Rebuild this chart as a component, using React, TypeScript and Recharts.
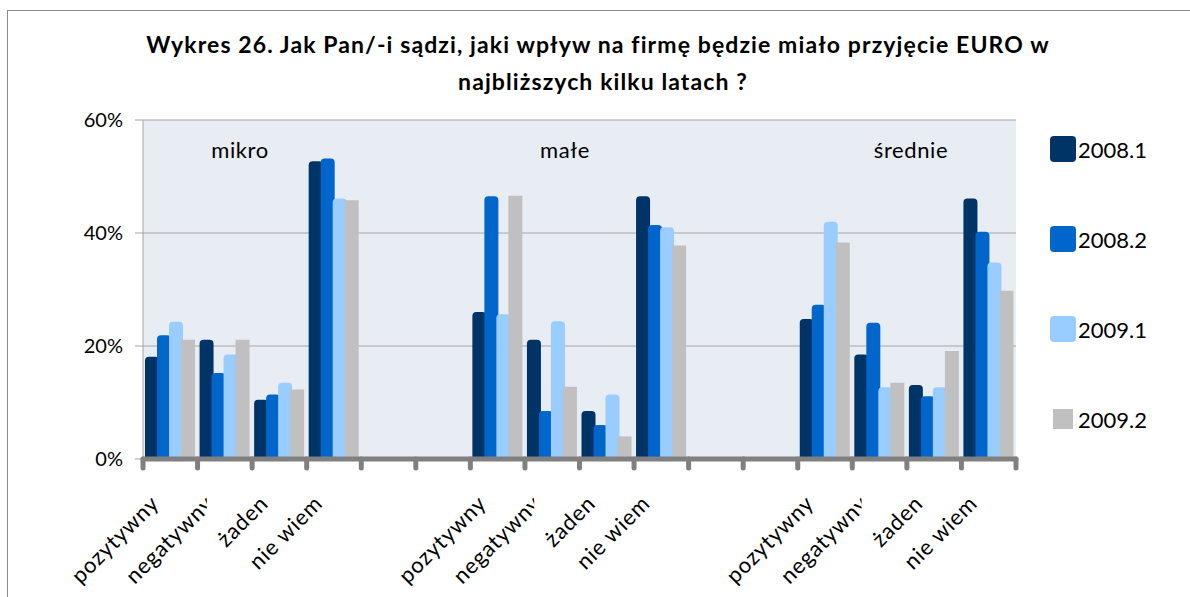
import React from "react";
import { BarChart, Bar, XAxis, YAxis, CartesianGrid } from "recharts";

// grupy firm, odpowiedzi i serie (fale badania)
const groupNames = ["mikro", "małe", "średnie"];
const answerLabels = ["pozytywny", "negatywny", "żaden", "nie wiem"];
const seriesNames = ["2008.1", "2008.2", "2009.1", "2009.2"];
const seriesColors = ["#003366", "#0066CC", "#99CCFF", "#C0C0C0"];

// wartości w % (mikro x4, małe x4, średnie x4)
const v2008_1 = [18.1, 21.1, 10.5, 52.7, 26.0, 21.1, 8.5, 46.5, 24.8, 18.5, 13.1, 46.1];
const v2008_2 = [21.9, 15.2, 11.4, 53.2, 46.5, 8.5, 6.0, 41.4, 27.3, 24.1, 11.1, 40.2];
const v2009_1 = [24.3, 18.5, 13.5, 46.1, 25.6, 24.4, 11.4, 41.0, 42.0, 12.7, 12.7, 34.8];
const v2009_2 = [21.1, 21.1, 12.3, 45.8, 46.6, 12.8, 4.0, 37.8, 38.3, 13.5, 19.1, 29.8];
const seriesValues = [v2008_1, v2008_2, v2009_1, v2009_2];

const yTicks = [0, 20, 40, 60];
const titleLines = [
  "Wykres 26. Jak Pan/-i sądzi, jaki wpływ na firmę będzie miało przyjęcie EURO w",
  "najbliższych kilku latach ?",
];

// tabela dla wykresu: 4 odpowiedzi na grupę + 2 puste sloty między grupami
const table: any[] = [];
groupNames.forEach((g, gi) => {
  answerLabels.forEach((a, ai) => {
    const row: any = { id: `${g}-${ai}`, label: a };
    seriesValues.forEach((vals, si) => {
      row[`s${si}`] = vals[gi * 4 + ai];
    });
    table.push(row);
  });
  if (gi < groupNames.length - 1) {
    table.push({ id: `${g}-gap1`, label: "" });
    table.push({ id: `${g}-gap2`, label: "" });
  }
});

const W = 1190;
const H = 597;
const M_TOP = 120;
const M_RIGHT = 174;
const Y_W = 143;
const X_H = 138;
const PLOT_BOTTOM = H - X_H;
const STEP = (W - M_RIGHT - Y_W) / table.length;
const FONT = "Lato, 'Open Sans', sans-serif";
const AXIS_GRAY = "#808080";

const CatTick = (props: any) => {
  const { x, index } = props;
  const row = table[index];
  const label = row ? row.label : "";
  const clipId = `lbl-clip-${index}`;
  const clipped = label === "negatywny"; // w oryginale etykieta jest ucięta
  const tickLine = (tx: number, k: string) => (
    <line
      key={k}
      x1={tx}
      y1={PLOT_BOTTOM}
      x2={tx}
      y2={PLOT_BOTTOM + 9}
      stroke={AXIS_GRAY}
      strokeWidth={5}
      strokeLinecap="round"
    />
  );
  return (
    <g>
      {tickLine(x - STEP / 2, "l")}
      {index === table.length - 1 && tickLine(x + STEP / 2, "r")}
      {clipped && (
        <defs>
          <clipPath id={clipId}>
            <rect x={x - 300} y={PLOT_BOTTOM} width={300 - 18} height={200} />
          </clipPath>
        </defs>
      )}
      {label && (
        <g clipPath={clipped ? `url(#${clipId})` : undefined}>
          <g transform={`translate(${x - 10},${PLOT_BOTTOM + 46}) rotate(-45)`}>
            <text textAnchor="end" fill="#000" fontSize={22} letterSpacing={0.8} fontFamily={FONT}>
              {label}
            </text>
          </g>
        </g>
      )}
    </g>
  );
};

function ChartLegend() {
  return (
    <div
      style={{
        position: "absolute",
        left: 1049,
        top: 104,
        fontFamily: FONT,
        fontSize: 22,
        color: "#000",
      }}
    >
      {seriesNames.map((name, i) => {
        const last = i === seriesNames.length - 1;
        return (
          <div key={name} style={{ display: "flex", alignItems: "center", height: 90 }}>
            <div style={{ width: 28, display: "flex", justifyContent: "center" }}>
              <div
                style={{
                  width: last ? 20 : 26,
                  height: last ? 20 : 26,
                  borderRadius: last ? 0 : 4,
                  background: seriesColors[i],
                }}
              />
            </div>
            <span style={{ marginLeft: 1 }}>{name}</span>
          </div>
        );
      })}
    </div>
  );
}

export default function App() {
  return (
    <div style={{ position: "relative", width: W, height: H, background: "#fff", overflow: "hidden" }}>
      <style>{`body{margin:0}`}</style>
      <div
        style={{
          position: "absolute",
          left: 7,
          top: 10,
          width: W,
          height: H,
          borderLeft: "1.5px solid #8C8C8C",
          borderTop: "1.5px solid #8C8C8C",
        }}
      />
      <BarChart
        width={W}
        height={H}
        data={table}
        margin={{ top: M_TOP, right: M_RIGHT, bottom: 0, left: 0 }}
        barSize={14}
        barGap={-2}
      >
        <CartesianGrid vertical={false} stroke="#A6A6A6" fill="#E8ECF3" />
        <XAxis
          dataKey="id"
          height={X_H}
          interval={0}
          tickLine={false}
          axisLine={{ stroke: AXIS_GRAY, strokeWidth: 5, strokeLinecap: "round" }}
          tick={<CatTick />}
        />
        <YAxis
          width={Y_W}
          domain={[0, 60]}
          ticks={yTicks}
          tickFormatter={(v) => `${v}%`}
          axisLine={{ stroke: "#A6A6A6" }}
          tickLine={{ stroke: "#A6A6A6" }}
          tickSize={8}
          tickMargin={12}
          tick={{ fill: "#000", fontSize: 20, fontFamily: FONT }}
        />
        {seriesNames.map((name, i) => (
          <Bar
            key={name}
            dataKey={`s${i}`}
            name={name}
            fill={seriesColors[i]}
            radius={i === 3 ? [0, 0, 0, 0] : [4, 4, 0, 0]}
            isAnimationActive={false}
          />
        ))}
      </BarChart>
      <ChartLegend />
      <svg
        width={W}
        height={H}
        style={{ position: "absolute", left: 0, top: 0, pointerEvents: "none" }}
      >
        <text x={598} y={53} textAnchor="middle" fontFamily={FONT} fontWeight={700} fontSize={23} letterSpacing={1.1}>
          {titleLines[0]}
        </text>
        <text x={603} y={90} textAnchor="middle" fontFamily={FONT} fontWeight={700} fontSize={23} letterSpacing={1.1}>
          {titleLines[1]}
        </text>
        {groupNames.map((g, i) => (
          <text
            key={g}
            x={[240, 565, 911][i]}
            y={158}
            textAnchor="middle"
            fontFamily={FONT}
            fontSize={22}
            letterSpacing={0.6}
          >
            {g}
          </text>
        ))}
      </svg>
    </div>
  );
}
